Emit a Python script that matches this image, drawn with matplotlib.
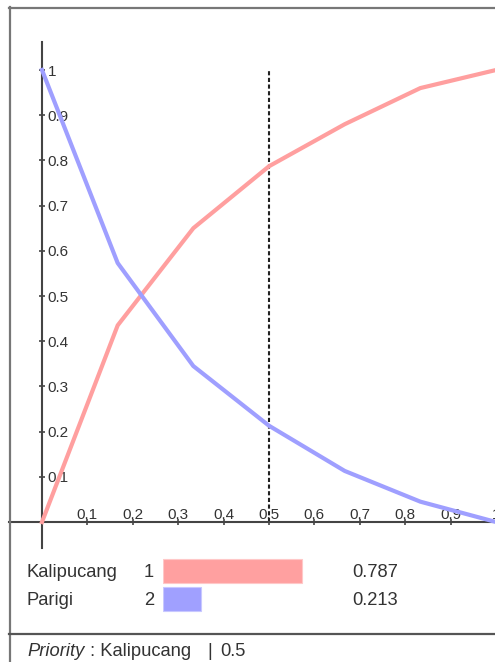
import matplotlib
matplotlib.use('Agg')
import matplotlib.pyplot as plt
from matplotlib.lines import Line2D

plt.rcParams['font.family'] = ['Liberation Sans', 'DejaVu Sans']

# data
weights = [0, 1/6, 1/3, 1/2, 2/3, 5/6, 1]
kalipucang = [0, 0.435, 0.65, 0.787, 0.88, 0.96, 1.0]
parigi = [1.0, 0.573, 0.345, 0.213, 0.113, 0.045, 0.0]
names = ['Kalipucang', 'Parigi']
ranks = ['1', '2']
scores = [0.787, 0.213]
xticks = [0.1, 0.2, 0.3, 0.4, 0.5, 0.6, 0.7, 0.8, 0.9, 1.0]
xlabels = ['0.1', '0.2', '0.3', '0.4', '0.5', '0.6', '0.7', '0.8', '0.9', '1']
yticks = [0.1, 0.2, 0.3, 0.4, 0.5, 0.6, 0.7, 0.8, 0.9, 1.0]
ylabels = ['0.1', '0.2', '0.3', '0.4', '0.5', '0.6', '0.7', '0.8', '0.9', '1']
cut = 0.5
priority = 'Kalipucang'

RED, BLUE = '#ff9f9f', '#9f9fff'
AX = '#444444'
TXT = '#333333'
W, H = 495, 662
fig = plt.figure(figsize=(W/100, H/100), dpi=100)

def px(x0, y0, x1, y1):
    # pixel box (top-left origin) -> figure fraction rect
    return [x0/W, 1 - y1/H, (x1-x0)/W, (y1-y0)/H]

# main chart: x=0 at 42px, x=1 at 496px; y=0 at 522px, y=1 at 70px
ax = fig.add_axes(px(9, 42, 496, 548))
ax.set_xlim(-33/454, 1.0)
ax.set_ylim(-26/452, 480/452)
ax.plot(weights, kalipucang, color=RED, lw=3, solid_joinstyle='round', clip_on=False, zorder=3)
ax.plot(weights, parigi, color=BLUE, lw=3, solid_joinstyle='round', clip_on=False, zorder=3)
ax.plot([cut, cut], [0, 1], color='#222222', lw=1.5, dashes=(2, 1.2), zorder=2)

for s in ['top', 'right']:
    ax.spines[s].set_visible(False)
for s in ['left', 'bottom']:
    ax.spines[s].set_position(('data', 0))
    ax.spines[s].set_color(AX)
    ax.spines[s].set_linewidth(1.5)
ax.patch.set_visible(False)

ax.set_xticks(xticks)
ax.set_xticklabels(xlabels, va='baseline')
ax.set_yticks(yticks)
ax.set_yticklabels(ylabels, ha='left')
ax.tick_params(axis='both', direction='inout', length=5, width=1.2, color=AX,
               labelsize=11, labelcolor=TXT)
ax.tick_params(axis='x', pad=-4.6)
ax.tick_params(axis='y', pad=-6.5)

# ranking bars: value 0 at 163px, 1 at 340px
bx = fig.add_axes(px(163, 557, 340, 613))
bx.barh([0, 1], scores, height=24/28, color=['#ffa0a0', '#a0a0ff'],
        edgecolor=['#ffc8c8', '#c8c8ff'], lw=0.8)
bx.set_xlim(0, 1)
bx.set_ylim(1.5, -0.5)
bx.axis('off')
tr = bx.get_yaxis_transform()
for i in range(len(names)):
    bx.text((27-163)/177, i + 0.05, names[i], transform=tr, ha='left', va='center', fontsize=13.2, color=TXT)
    bx.text((154-163)/177, i + 0.05, ranks[i], transform=tr, ha='right', va='center', fontsize=13.2, color=TXT)
    bx.text((352-163)/177, i + 0.05, f'{scores[i]:.3f}', transform=tr, ha='left', va='center', fontsize=13.2, color=TXT)

# frame and separator
for (x0, y0, x1, y1, c) in [(9, 7.5, 495, 7.5, '#777777'), (9.5, 7, 9.5, 662, '#777777'),
                            (9, 634, 495, 634, '#555555')]:
    fig.add_artist(Line2D([x0/W, x1/W], [1-y0/H, 1-y1/H], color=c, lw=1.6))

# priority line
base = 1 - 656/H
t1 = fig.text(27/W, base, 'Priority', style='italic', fontsize=13.2, color=TXT, va='baseline')
t2 = fig.text(0, base, ' : ' + priority, fontsize=13.2, color=TXT, va='baseline')
fig.canvas.draw()
bb = t1.get_window_extent()
t2.set_position((bb.x1/W + 1/W, base))
fig.canvas.draw()
bb2 = t2.get_window_extent()
fig.text(bb2.x1/W + 16/W, base, '|', fontsize=13.2, color=TXT, va='baseline')
fig.text(bb2.x1/W + 29/W, base, f'{cut}', fontsize=13.2, color=TXT, va='baseline')

fig.savefig('out.png', dpi=100)
